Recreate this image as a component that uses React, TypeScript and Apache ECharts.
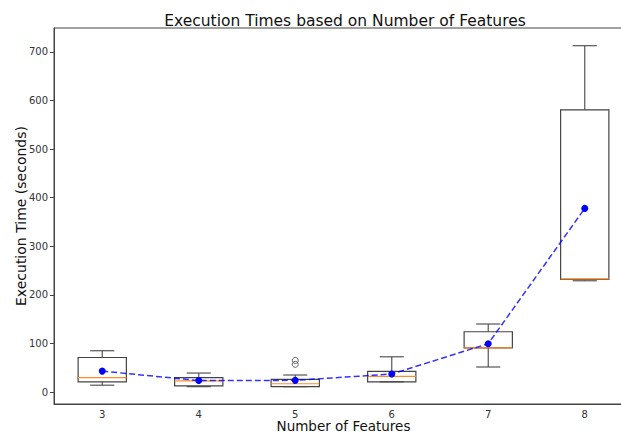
import React, { useEffect, useRef } from "react";
import * as echarts from "echarts";

const categories = ["3", "4", "5", "6", "7", "8"];
// [lowerWhisker, q1, median, q3, upperWhisker]
const boxStats: number[][] = [
  [14, 21, 29.5, 71, 85],
  [11, 12.5, 23, 29.5, 39],
  [11, 11, 17, 26, 35],
  [21, 21, 32, 42.5, 72.5],
  [51.5, 91, 91, 124, 140],
  [229, 232, 233, 581, 713],
];
const outliers: number[][] = [
  [2, 65],
  [2, 57],
];
const means = [43, 23.5, 24, 37, 99.5, 378];
const yTicks = [0, 100, 200, 300, 400, 500, 600, 700];

const FONT = "DejaVu Sans";

export default function App() {
  const ref = useRef<HTMLDivElement>(null);
  useEffect(() => {
    document.body.style.margin = "0";
    const chart = echarts.init(ref.current!, null, { renderer: "svg" });
    const boxData = boxStats.map((s, i) => [i, ...s]);
    chart.setOption({
      animation: false,
      title: {
        text: "Execution Times based on Number of Features",
        left: 340,
        textAlign: "center",
        top: 8,
        textStyle: { fontFamily: FONT, fontSize: 15.5, fontWeight: "normal", color: "#111" },
      },
      grid: {
        left: 54,
        top: 28,
        width: 579,
        height: 376,
        outerBoundsMode: "none",
        containLabel: false,
        show: true,
        borderColor: "#444",
        borderWidth: 1,
        backgroundColor: "transparent",
      },
      xAxis: {
        type: "category",
        data: categories,
        boundaryGap: true,
        name: "Number of Features",
        nameLocation: "middle",
        nameGap: 15,
        nameMoveOverlap: false,
        nameTextStyle: { fontFamily: FONT, fontSize: 13.5, color: "#111" },
        axisLine: { onZero: false, lineStyle: { color: "#444", width: 1 } },
        axisTick: { alignWithLabel: true, length: 4, lineStyle: { color: "#444" } },
        axisLabel: { fontFamily: FONT, fontSize: 10, color: "#333", margin: 5 },
        splitLine: { show: false },
      },
      yAxis: {
        type: "value",
        min: -24.7,
        max: 749.4,
        name: "Execution Time (seconds)",
        nameLocation: "middle",
        nameGap: 26,
        nameMoveOverlap: false,
        nameTextStyle: { fontFamily: FONT, fontSize: 14, color: "#111" },
        axisLine: { show: true, lineStyle: { color: "#444", width: 1 } },
        axisTick: { show: true, length: 4, customValues: yTicks, lineStyle: { color: "#444" } },
        axisLabel: { fontFamily: FONT, fontSize: 10, color: "#333", margin: 6, customValues: yTicks },
        splitLine: { show: false },
      },
      series: [
        {
          type: "custom",
          data: boxData,
          encode: { x: 0, y: [1, 2, 3, 4, 5] },
          z: 2,
          renderItem: (params: any, api: any) => {
            const x = api.value(0);
            const lo = api.coord([x, api.value(1)]);
            const q1 = api.coord([x, api.value(2)]);
            const med = api.coord([x, api.value(3)]);
            const q3 = api.coord([x, api.value(4)]);
            const hi = api.coord([x, api.value(5)]);
            const band = api.size([1, 0])[0];
            const hw = band * 0.25;
            const cw = band * 0.125;
            const cx = lo[0];
            const wStyle = { stroke: "#555", lineWidth: 1.2 };
            return {
              type: "group",
              children: [
                { type: "line", shape: { x1: cx, y1: hi[1], x2: cx, y2: q3[1] }, style: wStyle },
                { type: "line", shape: { x1: cx, y1: lo[1], x2: cx, y2: q1[1] }, style: wStyle },
                { type: "line", shape: { x1: cx - cw, y1: hi[1], x2: cx + cw, y2: hi[1] }, style: wStyle },
                { type: "line", shape: { x1: cx - cw, y1: lo[1], x2: cx + cw, y2: lo[1] }, style: wStyle },
                {
                  type: "rect",
                  shape: { x: cx - hw, y: q3[1], width: hw * 2, height: q1[1] - q3[1] },
                  style: { fill: "none", stroke: "#444", lineWidth: 1.2 },
                },
                {
                  type: "line",
                  shape: { x1: cx - hw, y1: med[1], x2: cx + hw, y2: med[1] },
                  style: { stroke: "#ff8c2a", lineWidth: 1.2 },
                },
              ],
            };
          },
        },
        {
          type: "scatter",
          data: outliers,
          symbol: "circle",
          symbolSize: 6,
          z: 3,
          itemStyle: { color: "rgba(0,0,0,0)", borderColor: "#444", borderWidth: 1 },
        },
        {
          type: "line",
          data: means,
          smooth: false,
          z: 5,
          symbol: "circle",
          symbolSize: 7,
          itemStyle: { color: "#0000ff" },
          lineStyle: { color: "rgba(0,0,255,0.8)", width: 1.5, type: [6, 3] },
        },
      ],
    });
    return () => chart.dispose();
  }, []);
  return <div ref={ref} style={{ width: 621, height: 433 }} />;
}
